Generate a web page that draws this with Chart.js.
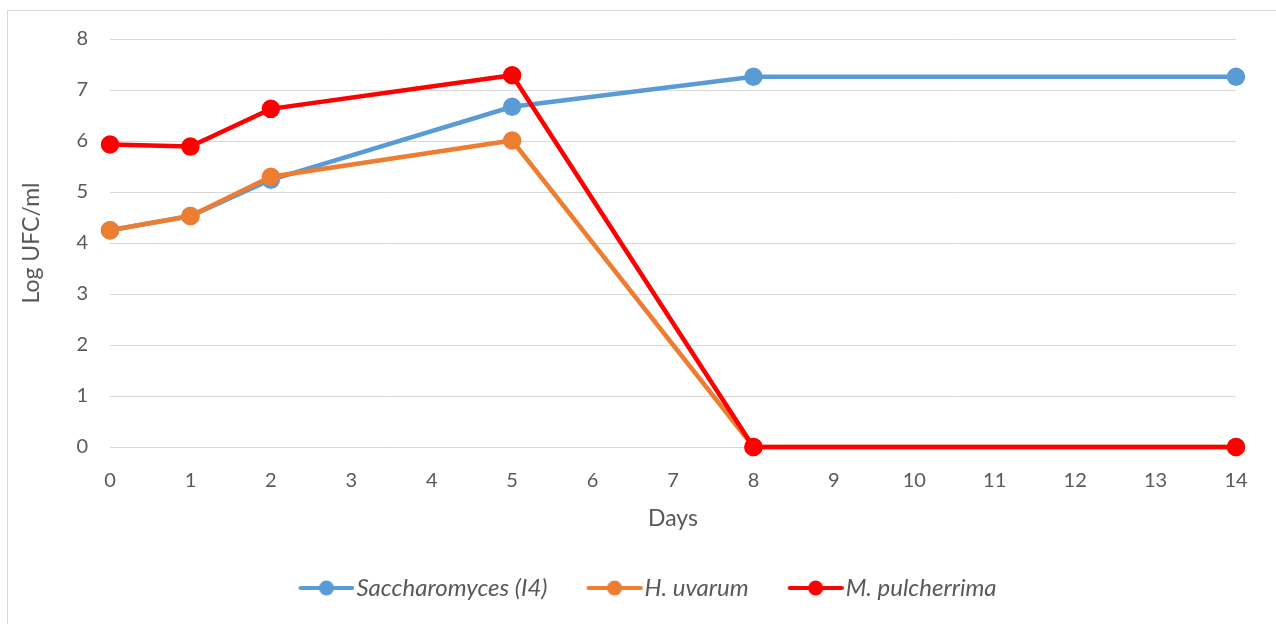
<!DOCTYPE html>
<html>
<head>
<meta charset="utf-8">
<script src="https://cdn.jsdelivr.net/npm/chart.js@4"></script>
<style>
  html, body { margin: 0; padding: 0; background: #fff; }
  #frame { position: absolute; left: 7px; top: 10px; width: 1290px; height: 640px; border: 1px solid #d9d9d9; }
  #myChart { position: absolute; left: 0; top: 0; }
</style>
</head>
<body>
<div id="frame"></div>
<canvas id="myChart" width="1276" height="624"></canvas>
<script>
var days = [0, 1, 2, 5, 8, 14];
var saccharomyces = [4.25, 4.53, 5.24, 6.67, 7.26, 7.26];
var hUvarum = [4.25, 4.53, 5.3, 6.01, 0, 0];
var mPulcherrima = [5.93, 5.89, 6.63, 7.29, 0, 0];
var yTicks = [0, 1, 2, 3, 4, 5, 6, 7, 8];

var grey = '#595959';
var font = 'Lato, "Open Sans", sans-serif';

function points(values) {
    return days.map(function (d, i) { return { x: d, y: values[i] }; });
}

// line-with-dot marker for the legend, line drawn on the right part only
function legendMarker(color) {
    var c = document.createElement('canvas');
    c.width = 85;
    c.height = 18;
    var g = c.getContext('2d');
    g.strokeStyle = color;
    g.lineWidth = 4;
    g.lineCap = 'round';
    g.beginPath();
    g.moveTo(31, 9);
    g.lineTo(83, 9);
    g.stroke();
    g.fillStyle = color;
    g.beginPath();
    g.arc(57, 9, 7.5, 0, Math.PI * 2);
    g.fill();
    return c;
}

function series(label, values, color, order) {
    return {
        label: label,
        data: points(values),
        borderColor: color,
        backgroundColor: color,
        pointBackgroundColor: color,
        pointBorderColor: color,
        pointRadius: 7,
        pointHoverRadius: 7,
        borderWidth: 4.5,
        tension: 0,
        clip: false,
        order: order,
        legendMarker: legendMarker(color)
    };
}

// nudge the legend row a bit to the right, like the original
var legendShift = {
    id: 'legendShift',
    afterLayout: function (chart) {
        if (chart.legend) chart.legend.left += 24;
    }
};

var ctx = document.getElementById('myChart').getContext('2d');

var chart = new Chart(ctx, {
    type: 'line',
    data: {
        datasets: [
            series('Saccharomyces (I4)', saccharomyces, '#5B9BD5', 3),
            series('H. uvarum', hUvarum, '#ED7D31', 2),
            series('M. pulcherrima', mPulcherrima, '#FF0000', 1)
        ]
    },
    options: {
        responsive: false,
        animation: false,
        devicePixelRatio: 1,
        layout: { padding: { top: 39, right: 40, left: 16, bottom: 14 } },
        scales: {
            x: {
                type: 'linear',
                min: 0,
                max: 14,
                grid: { display: false, drawTicks: false },
                border: { display: true, color: '#d9d9d9', width: 1 },
                ticks: {
                    stepSize: 1,
                    padding: 22,
                    color: grey,
                    font: { family: font, size: 20 },
                    maxRotation: 0
                },
                title: {
                    display: true,
                    text: 'Days',
                    color: grey,
                    font: { family: font, size: 23 },
                    padding: { top: 0, bottom: 24 }
                },
                afterFit: function (scale) { scale.height = 109; }
            },
            y: {
                min: 0,
                max: 8,
                afterBuildTicks: function (scale) {
                    scale.ticks = yTicks.map(function (v) { return { value: v }; });
                },
                grid: { color: '#d9d9d9', lineWidth: 1, drawTicks: false },
                border: { display: false },
                ticks: {
                    padding: 22,
                    color: grey,
                    font: { family: font, size: 20 }
                },
                title: {
                    display: true,
                    text: 'Log UFC/ml',
                    color: grey,
                    font: { family: font, size: 23 },
                    padding: { top: 2, bottom: 0 }
                },
                afterFit: function (scale) { scale.width = 94; }
            }
        },
        plugins: {
            tooltip: { enabled: false },
            legend: {
                position: 'bottom',
                labels: {
                    usePointStyle: true,
                    pointStyleWidth: 65,
                    boxHeight: 18,
                    padding: 20,
                    color: grey,
                    font: { family: font, size: 24, style: 'italic' },
                    sort: function (a, b) { return a.datasetIndex - b.datasetIndex; },
                    generateLabels: function (chart) {
                        var items = Chart.defaults.plugins.legend.labels.generateLabels(chart);
                        items.forEach(function (item) {
                            item.pointStyle = chart.data.datasets[item.datasetIndex].legendMarker;
                        });
                        return items;
                    }
                }
            }
        }
    },
    plugins: [legendShift]
});
</script>
</body>
</html>
